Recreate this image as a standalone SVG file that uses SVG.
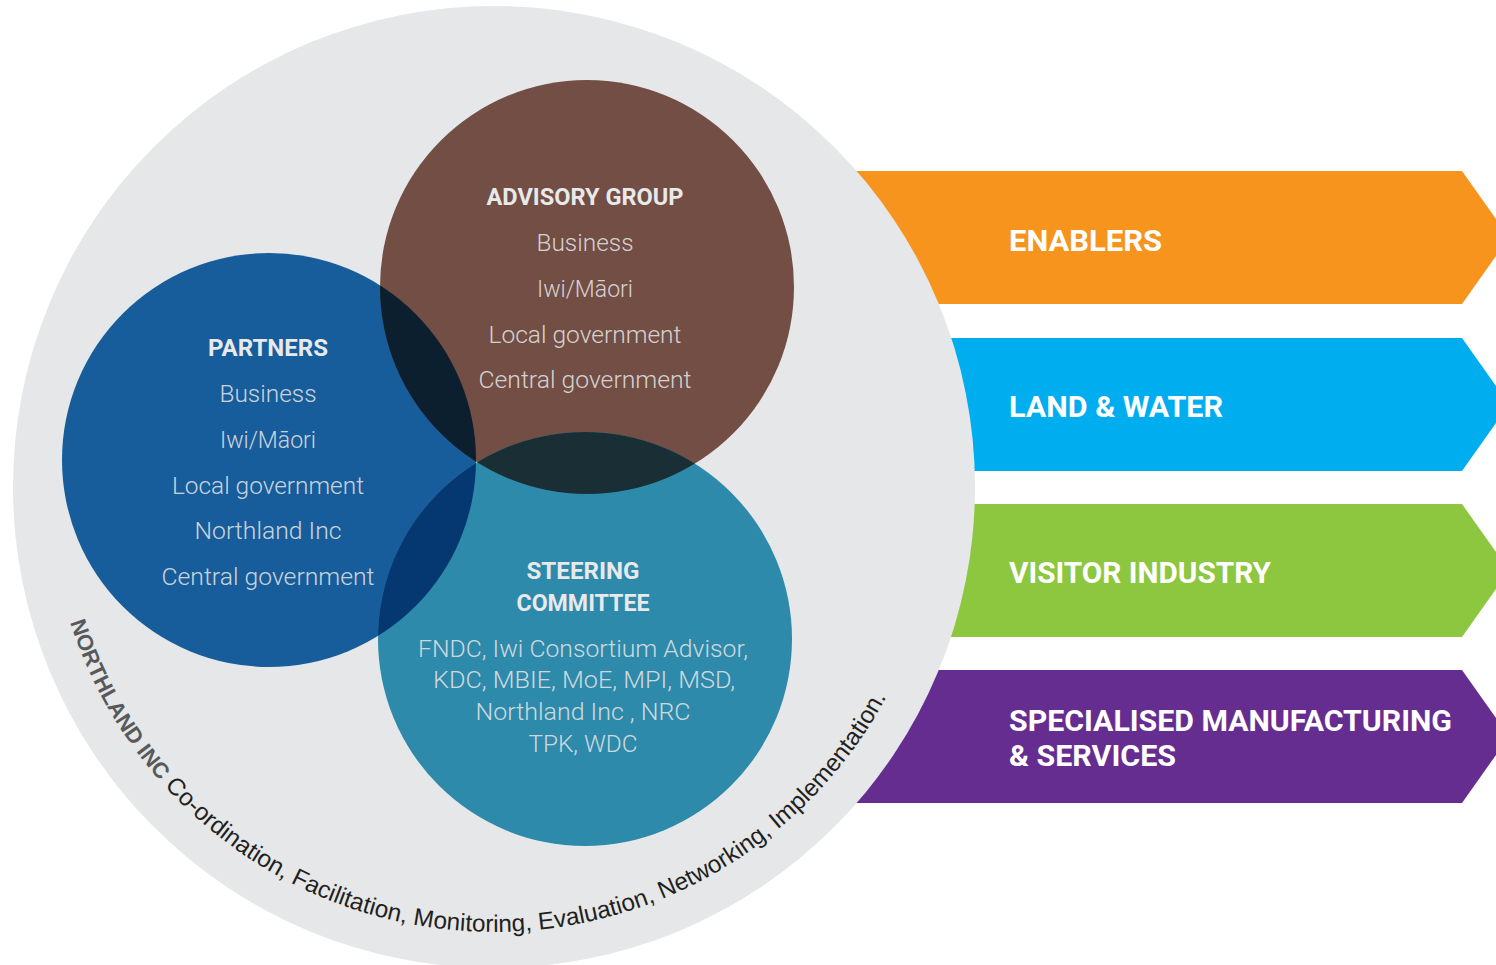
<svg xmlns="http://www.w3.org/2000/svg" width="1496" height="965" viewBox="0 0 1496 965">
<defs>
<style>
.t{font-family:Roboto,"Liberation Sans",Arial,sans-serif;font-weight:700;font-size:24px;fill:#E8E9EA;text-anchor:middle}
.i{font-family:Roboto,"Liberation Sans",Arial,sans-serif;font-weight:300;font-size:24px;fill:#E2E3E4;fill-opacity:.9;text-anchor:middle}
.a{font-family:Roboto,"Liberation Sans",Arial,sans-serif;font-weight:700;font-size:30px;fill:#FFFFFF}
.arc{font-family:"Liberation Sans",Arial,sans-serif;font-size:24.3px;fill:#231F20}
.arcb{font-weight:700;font-size:22px;fill:#58595B}
</style>
<clipPath id="cpP"><circle cx="269" cy="460" r="207"/></clipPath>
<clipPath id="cpA"><circle cx="587" cy="287" r="207"/></clipPath>
<path id="arcPath" d="M64.2,602.2 A445,445 0 0 0 923.8,602.2" fill="none"/>
</defs>

<g id="arrows">
<g id="enablers">
<polygon points="820,171 1462,171 1509,237.5 1462,304 820,304" fill="#F7941E"/>
<text class="a" x="1009" y="251" textLength="153" lengthAdjust="spacingAndGlyphs">ENABLERS</text>
</g>
<g id="land-water">
<polygon points="820,338 1462,338 1509,404.5 1462,471 820,471" fill="#00AEEF"/>
<text class="a" x="1009" y="417" textLength="214" lengthAdjust="spacingAndGlyphs">LAND &amp; WATER</text>
</g>
<g id="visitor-industry">
<polygon points="820,504 1462,504 1509,570.5 1462,637 820,637" fill="#8DC63F"/>
<text class="a" x="1009" y="583" textLength="262" lengthAdjust="spacingAndGlyphs">VISITOR INDUSTRY</text>
</g>
<g id="specialised">
<polygon points="820,670 1462,670 1509,736.5 1462,803 820,803" fill="#662D91"/>
<text class="a" x="1009" y="731" textLength="443" lengthAdjust="spacingAndGlyphs">SPECIALISED MANUFACTURING</text>
<text class="a" x="1009" y="766" textLength="167" lengthAdjust="spacingAndGlyphs">&amp; SERVICES</text>
</g>
</g>

<g id="northland-inc">
<circle cx="494" cy="487" r="481" fill="#E6E7E8"/>
<text class="arc"><textPath href="#arcPath" startOffset="21"><tspan class="arcb">NORTHLAND INC</tspan> Co-ordination, Facilitation, Monitoring, Evaluation, Networking, Implementation.</textPath></text>
</g>

<g id="circles">
<circle id="c-partners" cx="269" cy="460" r="207" fill="#175D9B"/>
<circle id="c-advisory" cx="587" cy="287" r="207" fill="#724E45"/>
<circle id="c-steering" cx="585" cy="639" r="207" fill="#2E8AAB"/>
<circle cx="587" cy="287" r="207" fill="#0B1F2E" clip-path="url(#cpP)"/>
<circle cx="585" cy="639" r="207" fill="#1A2F35" clip-path="url(#cpA)"/>
<circle cx="585" cy="639" r="207" fill="#053770" clip-path="url(#cpP)"/>
</g>

<g id="advisory-group">
<text class="t" x="585" y="205" textLength="197" lengthAdjust="spacingAndGlyphs">ADVISORY GROUP</text>
<text class="i" x="585" y="251" textLength="97" lengthAdjust="spacingAndGlyphs">Business</text>
<text class="i" x="585" y="297" textLength="96" lengthAdjust="spacingAndGlyphs">Iwi/Māori</text>
<text class="i" x="585" y="343" textLength="193" lengthAdjust="spacingAndGlyphs">Local government</text>
<text class="i" x="585" y="388" textLength="213" lengthAdjust="spacingAndGlyphs">Central government</text>
</g>

<g id="partners">
<text class="t" x="268" y="356" textLength="120" lengthAdjust="spacingAndGlyphs">PARTNERS</text>
<text class="i" x="268" y="402" textLength="97" lengthAdjust="spacingAndGlyphs">Business</text>
<text class="i" x="268" y="448" textLength="96" lengthAdjust="spacingAndGlyphs">Iwi/Māori</text>
<text class="i" x="268" y="494" textLength="192" lengthAdjust="spacingAndGlyphs">Local government</text>
<text class="i" x="268" y="539" textLength="147" lengthAdjust="spacingAndGlyphs">Northland Inc</text>
<text class="i" x="268" y="585" textLength="213" lengthAdjust="spacingAndGlyphs">Central government</text>
</g>

<g id="steering-committee">
<text class="t" x="583" y="579" textLength="113" lengthAdjust="spacingAndGlyphs">STEERING</text>
<text class="t" x="583" y="611" textLength="133" lengthAdjust="spacingAndGlyphs">COMMITTEE</text>
<text class="i" x="583" y="657" textLength="330" lengthAdjust="spacingAndGlyphs">FNDC, Iwi Consortium Advisor,</text>
<text class="i" x="584" y="688" textLength="302" lengthAdjust="spacingAndGlyphs">KDC, MBIE, MoE, MPI, MSD,</text>
<text class="i" x="583" y="720" textLength="215" lengthAdjust="spacingAndGlyphs">Northland Inc , NRC</text>
<text class="i" x="583" y="752" textLength="109" lengthAdjust="spacingAndGlyphs">TPK, WDC</text>
</g>
</svg>
